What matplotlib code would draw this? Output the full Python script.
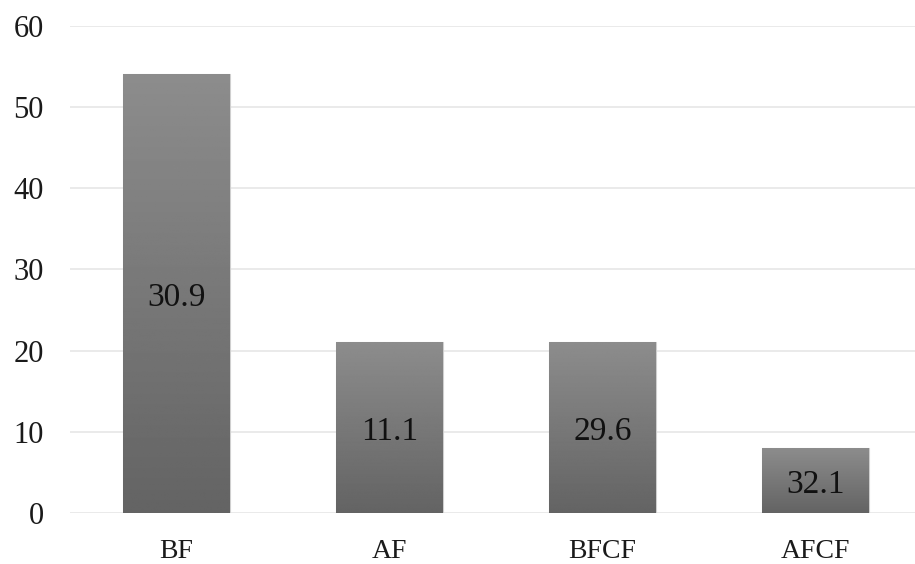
import matplotlib.pyplot as plt
import numpy as np

plt.rcParams['font.family'] = ['Liberation Serif', 'DejaVu Serif']

groups = ['BF', 'AF', 'BFCF', 'AFCF']
counts = [54, 21, 21, 8]
percent = ['30.9', '11.1', '29.6', '32.1']

fig = plt.figure(figsize=(9.15, 5.64), dpi=100)
ax = fig.add_axes([0.0765, 0.0904, 0.931, 0.864])

x = np.arange(len(groups))
bars = ax.bar(x, counts, width=0.5, color='#777777', edgecolor='#cfcfcf',
              linewidth=0.8, zorder=2)

# vertical grey gradient inside each bar, darker at the base
grad = np.linspace(0, 1, 256).reshape(-1, 1)
for b in bars:
    x0, w, h = b.get_x(), b.get_width(), b.get_height()
    im = ax.imshow(grad, cmap='gray', vmin=-2.44, vmax=3.81, aspect='auto',
                   extent=[x0, x0 + w, 0, h], origin='lower', zorder=3)
    im.set_clip_path(b)

for xi, h, lab in zip(x, counts, percent):
    ax.text(xi, h / 2 - 0.5, lab, ha='center', va='center', fontsize=24,
            color='#111111', zorder=4)

ax.set_xlim(-0.5, 3.5)
ax.set_ylim(0, 60)
ax.set_yticks(range(0, 61, 10))
ax.set_xticks(x)
ax.set_xticklabels(groups)
ax.tick_params(axis='y', length=0, pad=19, labelsize=22, colors='#1a1a1a')
ax.tick_params(axis='x', length=0, pad=19, labelsize=20, colors='#1a1a1a')
ax.grid(axis='y', color='#e6e6e6', linewidth=1.2, zorder=0)
for s in ax.spines.values():
    s.set_visible(False)

fig.savefig('out.png', dpi=100)
